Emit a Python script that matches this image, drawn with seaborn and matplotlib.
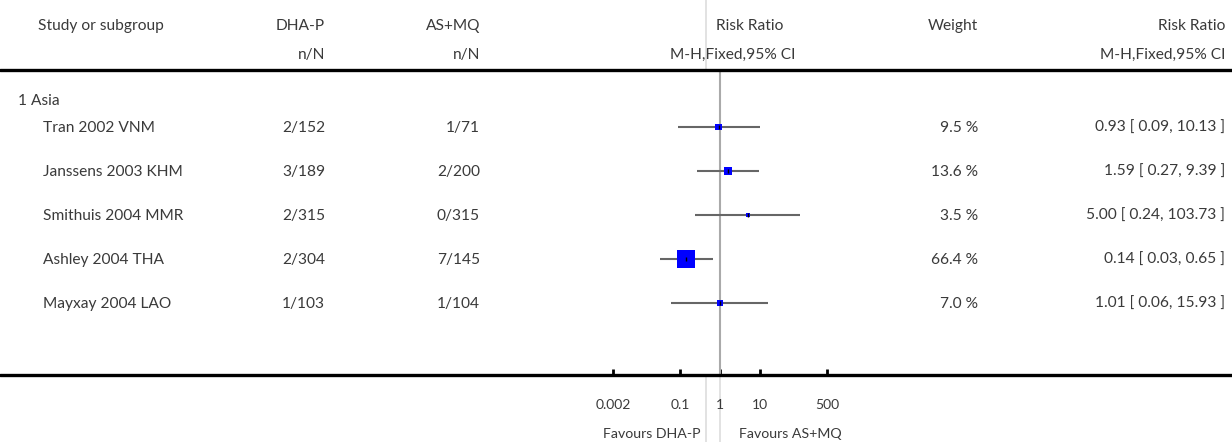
import numpy as np
import pandas as pd
import seaborn as sns
from matplotlib import pyplot as plt
from matplotlib.lines import Line2D

studies = ["Tran 2002 VNM", "Janssens 2003 KHM", "Smithuis 2004 MMR", "Ashley 2004 THA", "Mayxay 2004 LAO"]
dha_p = ["2/152", "3/189", "2/315", "2/304", "1/103"]
as_mq = ["1/71", "2/200", "0/315", "7/145", "1/104"]
weights = [9.5, 13.6, 3.5, 66.4, 7.0]
rr = [0.93, 1.59, 5.00, 0.14, 1.01]
ci_low = [0.09, 0.27, 0.24, 0.03, 0.06]
ci_high = [10.13, 9.39, 103.73, 0.65, 15.93]
ticks = [0.002, 0.1, 1, 10, 500]
tick_labels = ["0.002", "0.1", "1", "10", "500"]

W, H = 1232, 442
TXT = "#3a3a3a"


def fx(px):
    return px / W


def fy(py):
    return 1 - py / H


sns.set_style("white")
plt.rcParams['font.family'] = ['Lato', 'DejaVu Sans']

df = pd.DataFrame({"study": studies, "rr": rr, "lo": ci_low, "hi": ci_high,
                   "weight": weights, "row": np.arange(len(studies))})

fig = plt.figure(figsize=(W / 100, H / 100), dpi=100)

# forest plot axes: x=1 sits at 720px, ~39.7px per decade
L, R, T, B = 560, 900, 72, 375
dec = 39.7
ax = fig.add_axes([fx(L), fy(B), fx(R) - fx(L), fy(T) - fy(B)])
ax.set_xscale("log")
ax.set_xlim(10 ** ((L - 720) / dec), 10 ** ((R - 720) / dec))
row0, step = 127, 44
ax.set_ylim((B - row0) / step, (T - row0) / step)

ax.axvline(1, color="#aaaaaa", lw=1.5, zorder=1)
ax.hlines(df["row"], df["lo"], df["hi"], color="#666666", lw=1.5, zorder=2)
sns.scatterplot(data=df, x="rr", y="row", size="weight", size_norm=(0, max(weights)),
                sizes=(0, 168), marker="s", color="#0000ff", linewidth=0,
                legend=False, ax=ax, zorder=3)
ax.plot(df["rr"], df["row"], ls="none", marker="|", color="black", ms=3, mew=1, zorder=4)

for s in ax.spines.values():
    s.set_visible(False)
ax.set_yticks([])
ax.set_xticks(ticks)
ax.set_xticklabels(tick_labels)
ax.minorticks_off()
ax.tick_params(axis="x", bottom=True, direction="in", length=4.5, width=2, color="black",
               pad=17, labelsize=10, labelcolor=TXT)
ax.set_xlabel("")
ax.set_ylabel("")

# rules and light guide lines
fig.add_artist(Line2D([0, 1], [fy(70), fy(70)], color="black", lw=2.4))
fig.add_artist(Line2D([0, 1], [fy(375), fy(375)], color="black", lw=2.4))
fig.add_artist(Line2D([fx(706), fx(706)], [0, 1], color="#dddddd", lw=1.2, zorder=0))
fig.add_artist(Line2D([fx(720), fx(720)], [0, fy(376)], color="#dddddd", lw=1.2, zorder=0))

fs = 11.2
# headers
fig.text(fx(38), fy(26), "Study or subgroup", ha="left", va="center", fontsize=fs, color=TXT)
fig.text(fx(325), fy(26), "DHA-P", ha="right", va="center", fontsize=fs, color=TXT)
fig.text(fx(325), fy(55), "n/N", ha="right", va="center", fontsize=fs, color=TXT)
fig.text(fx(480), fy(26), "AS+MQ", ha="right", va="center", fontsize=fs, color=TXT)
fig.text(fx(480), fy(55), "n/N", ha="right", va="center", fontsize=fs, color=TXT)
fig.text(fx(783), fy(26), "Risk Ratio", ha="right", va="center", fontsize=fs, color=TXT)
fig.text(fx(795), fy(55), "M-H,Fixed,95% CI", ha="right", va="center", fontsize=fs, color=TXT)
fig.text(fx(978), fy(26), "Weight", ha="right", va="center", fontsize=fs, color=TXT)
fig.text(fx(1225), fy(26), "Risk Ratio", ha="right", va="center", fontsize=fs, color=TXT)
fig.text(fx(1225), fy(55), "M-H,Fixed,95% CI", ha="right", va="center", fontsize=fs, color=TXT)

fig.text(fx(18), fy(101), "1 Asia", ha="left", va="center", fontsize=fs, color=TXT)

for i in range(len(studies)):
    y = fy(row0 + step * i + 1)
    fig.text(fx(43), y, studies[i], ha="left", va="center", fontsize=fs, color=TXT)
    fig.text(fx(325), y, dha_p[i], ha="right", va="center", fontsize=fs, color=TXT)
    fig.text(fx(480), y, as_mq[i], ha="right", va="center", fontsize=fs, color=TXT)
    fig.text(fx(978), y, f"{weights[i]:.1f} %", ha="right", va="center", fontsize=fs, color=TXT)
    fig.text(fx(1225), y, f"{rr[i]:.2f} [ {ci_low[i]:.2f}, {ci_high[i]:.2f} ]",
             ha="right", va="center", fontsize=fs, color=TXT)

fig.text(fx(700), fy(434), "Favours DHA-P", ha="right", va="center", fontsize=10.2, color=TXT)
fig.text(fx(739), fy(434), "Favours AS+MQ", ha="left", va="center", fontsize=10.2, color=TXT)

fig.savefig("out.png", dpi=100)
